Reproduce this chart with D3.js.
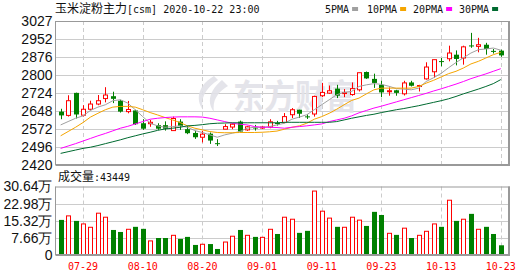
<!DOCTYPE html>
<html><head><meta charset="utf-8">
<script src="https://cdn.jsdelivr.net/npm/d3@7"></script>
<style>body{margin:0;background:#fff}svg{display:block}</style>
</head><body><svg id="c" width="530" height="276"></svg>
<script>
const dates = ["07-24","07-27","07-28","07-29","07-30","07-31","08-03","08-04","08-05","08-06","08-07","08-10","08-11","08-12","08-13","08-14","08-17","08-18","08-19","08-20","08-21","08-24","08-25","08-26","08-27","08-28","08-31","09-01","09-02","09-03","09-04","09-07","09-08","09-09","09-10","09-11","09-14","09-15","09-16","09-17","09-18","09-21","09-22","09-23","09-24","09-25","09-28","09-29","09-30","10-09","10-12","10-13","10-14","10-15","10-16","10-19","10-20","10-21","10-22","10-23"];
const open  = [2645,2629,2724,2630,2655,2677,2700,2710,2691,2645,2650,2596,2594,2588,2588,2565,2603,2571,2555,2537,2552,2512,2571,2580,2603,2568,2578,2578,2580,2597,2599,2632,2653,2625,2635,2712,2723,2742,2722,2717,2737,2812,2783,2758,2730,2735,2720,2768,2753,2783,2813,2858,2868,2885,2871,2924,2920,2927,2901,2902];
const high  = [2657,2714,2725,2672,2691,2715,2748,2729,2695,2690,2653,2613,2610,2596,2604,2624,2613,2585,2564,2564,2557,2529,2592,2596,2607,2585,2589,2585,2613,2606,2639,2660,2653,2634,2712,2766,2755,2758,2740,2768,2809,2814,2805,2775,2747,2737,2775,2775,2758,2853,2864,2871,2923,2903,2923,2977,2956,2935,2909,2906];
const low   = [2613,2624,2616,2624,2650,2672,2684,2681,2641,2638,2589,2568,2581,2568,2565,2564,2568,2550,2530,2515,2509,2500,2571,2571,2558,2564,2565,2572,2575,2586,2596,2618,2618,2614,2624,2706,2720,2702,2706,2712,2730,2783,2745,2706,2712,2712,2713,2751,2730,2780,2788,2836,2857,2840,2843,2914,2895,2885,2890,2876];
const close = [2629,2691,2633,2655,2677,2691,2715,2699,2645,2654,2592,2573,2600,2573,2573,2616,2585,2554,2537,2550,2523,2510,2582,2592,2561,2581,2576,2580,2602,2595,2624,2653,2636,2623,2709,2726,2733,2712,2725,2742,2809,2785,2766,2726,2733,2724,2766,2754,2755,2833,2864,2856,2892,2867,2918,2922,2927,2909,2899,2882];
const volume = [15.7,17.5,15.25,13.9,12.4,18.7,16.9,11.2,10.3,11.5,12.6,11.7,6.3,7.6,7.6,8.8,7.2,8.1,4.5,4.8,4.9,2.7,5.8,8.4,11.2,8.8,8.1,7.9,11.5,9.4,16.9,16.0,9.9,10.8,28.6,19.6,16.5,12.6,12.4,16.9,15.6,13.0,19.3,17.9,9.7,9.0,12.0,7.6,8.8,10.6,13.9,12.6,24.5,15.25,16.0,18.4,11.5,12.6,9.4,4.3449];
const lastVolume = 43449;
const ma5  = [2589,2603,2617,2627,2650,2664,2674,2691,2695,2681,2653,2624,2596,2585,2579,2582,2585,2579,2565,2557,2547,2537,2547,2554,2561,2575,2579,2579,2582,2589,2596,2613,2622,2632,2653,2674,2695,2716,2726,2730,2751,2758,2763,2760,2752,2742,2740,2737,2744,2772,2788,2806,2830,2852,2872,2892,2906,2909,2913,2904];
const ma10 = [2543,2561,2579,2599,2622,2638,2653,2664,2667,2667,2664,2653,2641,2631,2620,2610,2599,2585,2575,2568,2561,2557,2556,2556,2557,2557,2557,2558,2560,2563,2571,2579,2585,2596,2613,2624,2638,2655,2674,2692,2702,2720,2737,2744,2744,2744,2744,2744,2751,2765,2777,2791,2805,2815,2829,2846,2857,2871,2885,2895];
const ma20 = [2490,2500,2510,2521,2532,2543,2553,2564,2575,2583,2593,2603,2613,2617,2620,2622,2623,2623,2623,2622,2617,2610,2603,2596,2592,2589,2582,2579,2579,2578,2575,2579,2582,2585,2589,2593,2603,2610,2617,2627,2640,2650,2660,2668,2677,2686,2695,2704,2713,2722,2732,2741,2751,2761,2772,2784,2794,2804,2815,2826];
const ma30 = [2469,2476,2483,2490,2495,2502,2510,2518,2526,2535,2543,2551,2558,2566,2572,2575,2579,2585,2587,2590,2594,2596,2597,2598,2598,2598,2598,2598,2598,2598,2600,2600,2600,2600,2600,2600,2600,2603,2610,2617,2623,2629,2634,2641,2647,2653,2658,2664,2670,2677,2684,2691,2699,2709,2720,2730,2740,2751,2763,2780];
const priceTicks = [2420,2496,2572,2648,2724,2800,2876,2952,3027];
const volTicks = [0,7.66,15.32,22.98,30.64];
const tickDates = ["07-29","08-10","08-20","09-01","09-11","09-23","10-13","10-23"];
const legendNames = ["5PMA","10PMA","20PMA","30PMA"];
const maColors = ["#a0a0a0","#f5a500","#ff00ff","#006a30"];

const L = 55.5, R = 509, T = 21, B = 165, VT = 186.5, VB = 255;
const RED = "#ff0000", GREEN = "#008000";
const svg = d3.select("#c");
const x = d3.scaleBand().domain(dates).range([56.9, 504.5]);
const cx = d => x(d) + x.bandwidth() / 2;
const y = d3.scaleLinear().domain([2420, 3027]).range([B, T]);
const yv = d3.scaleLinear().domain([0, 30.64]).range([VB, VT]);

const monoFont = "'DejaVu Sans Mono', 'Liberation Mono', monospace";
const numFont = "'Liberation Sans Narrow', 'Arial Narrow', 'Liberation Sans', Arial, sans-serif";
const cjkFont = "'Noto Sans CJK SC', sans-serif";

// gridlines
function hgrid(g, ticks, sc) {
  g.selectAll("line.h").data(ticks.slice(1, -1)).join("line")
    .attr("x1", L).attr("x2", R)
    .attr("y1", d => Math.round(sc(d)) + 0.5).attr("y2", d => Math.round(sc(d)) + 0.5)
    .attr("stroke", "#cccccc").attr("stroke-width", 1);
}
function vgrid(g, top, bot) {
  g.selectAll("line.v").data(tickDates).join("line")
    .attr("x1", d => Math.round(cx(d)) + 0.5).attr("x2", d => Math.round(cx(d)) + 0.5)
    .attr("y1", top).attr("y2", bot)
    .attr("stroke", "#cccccc").attr("stroke-dasharray", "4,3");
}
const gMain = svg.append("g");
hgrid(gMain, priceTicks, y); vgrid(gMain, T, B);
const gVol = svg.append("g");
hgrid(gVol, volTicks, yv); vgrid(gVol, VT, VB);

// watermark
const wm = svg.append("g").attr("opacity", 0.9);
wm.append("path")
  .attr("d", "M214,76 C200,84 194,98 203,110 C200,98 206,88 218,80 Z M222,80 C210,90 206,102 214,112 C212,100 218,92 228,86 Z")
  .attr("fill", "#e2e2e8");
wm.append("text").attr("x", 233).attr("y", 109)
  .attr("font-family", cjkFont).attr("font-size", 34).attr("font-weight", "bold")
  .attr("textLength", 124).attr("lengthAdjust", "spacingAndGlyphs")
  .attr("fill", "#e2e2e8").text("东方财富");

// candles
const idx = d3.range(dates.length);
const gC = svg.append("g");
gC.selectAll("line.wick").data(idx).join("line")
  .attr("x1", i => Math.round(cx(dates[i])) + 0.5).attr("x2", i => Math.round(cx(dates[i])) + 0.5)
  .attr("y1", i => y(high[i])).attr("y2", i => y(low[i]))
  .attr("stroke", i => close[i] >= open[i] ? RED : GREEN).attr("stroke-width", 1);
gC.selectAll("rect.body").data(idx).join("rect")
  .attr("x", i => close[i] >= open[i] ? Math.round(cx(dates[i])) - 2 + 0.5 : Math.round(cx(dates[i])) - 2)
  .attr("width", i => close[i] >= open[i] ? 4 : 5)
  .attr("y", i => y(Math.max(open[i], close[i])))
  .attr("height", i => Math.max(1, Math.abs(y(open[i]) - y(close[i]))))
  .attr("fill", i => close[i] >= open[i] ? "#ffffff" : GREEN)
  .attr("stroke", i => close[i] >= open[i] ? RED : "none").attr("stroke-width", 1);

// MA lines
const mas = [ma5, ma10, ma20, ma30];
const line = d3.line().x((d, i) => cx(dates[i])).y(d => y(d));
svg.append("g").selectAll("path").data(mas).join("path")
  .attr("d", d => line(d)).attr("fill", "none")
  .attr("stroke", (d, k) => maColors[k]).attr("stroke-width", 1);

// volume bars
svg.append("g").selectAll("rect").data(idx).join("rect")
  .attr("x", i => close[i] >= open[i] ? Math.round(cx(dates[i])) - 2 + 0.5 : Math.round(cx(dates[i])) - 2)
  .attr("width", i => close[i] >= open[i] ? 4 : 5)
  .attr("y", i => yv(volume[i]))
  .attr("height", i => VB - yv(volume[i]))
  .attr("fill", i => close[i] >= open[i] ? "#ffffff" : GREEN)
  .attr("stroke", i => close[i] >= open[i] ? RED : "none");

// borders
function frame(top, bot) {
  const g = svg.append("g").attr("stroke", "#999999").attr("fill", "none");
  g.append("line").attr("x1", L).attr("x2", R + 1).attr("y1", top + 0.5).attr("y2", top + 0.5);
  g.append("line").attr("x1", L).attr("x2", L).attr("y1", top).attr("y2", bot);
  g.append("line").attr("x1", R).attr("x2", R).attr("y1", top).attr("y2", bot + 1).attr("stroke-width", 2);
  g.append("line").attr("x1", L).attr("x2", R + 1).attr("y1", bot).attr("y2", bot).attr("stroke-width", 2);
}
frame(T, B); frame(VT, VB);

// axes
const ya = svg.append("g").attr("transform", `translate(${L},0)`)
  .call(d3.axisLeft(y).tickValues(priceTicks).tickSize(0).tickPadding(3).tickFormat(d3.format("d")));
ya.select(".domain").remove();
ya.selectAll("text").attr("font-family", numFont).attr("font-size", 14).attr("fill", "#111");
const va = svg.append("g").attr("transform", `translate(${L},0)`)
  .call(d3.axisLeft(yv).tickValues(volTicks).tickSize(0).tickPadding(3)
    .tickFormat(d => d === 0 ? "0" : d3.format(".2f")(d) + "万"));
va.select(".domain").remove();
va.selectAll("text").attr("font-family", numFont).attr("font-size", 14).attr("fill", "#111");
const xa = svg.append("g").attr("transform", `translate(0,${VB})`)
  .call(d3.axisBottom(x).tickValues(tickDates).tickSize(0).tickPadding(8));
xa.select(".domain").remove();
xa.selectAll("text").attr("font-family", monoFont).attr("font-size", 10).attr("fill", RED);

// title
const title = svg.append("text").attr("x", 55).attr("y", 12.5).attr("fill", "#111");
title.append("tspan").attr("font-family", cjkFont).attr("font-size", 12).text("玉米淀粉主力");
title.append("tspan").attr("font-family", monoFont).attr("font-size", 10).text("[csm] 2020-10-22 23:00");

// legend
const legX = [325, 367, 413, 459];
const lg = svg.append("g");
lg.selectAll("text").data(legendNames).join("text")
  .attr("x", (d, k) => legX[k]).attr("y", 12.5)
  .attr("font-family", monoFont).attr("font-size", 10).attr("fill", "#111").text(d => d);
lg.selectAll("rect").data(legendNames).join("rect")
  .attr("x", (d, k) => legX[k] + d.length * 6.02 + 3).attr("y", 7)
  .attr("width", 6).attr("height", 4).attr("fill", (d, k) => maColors[k]);

// volume title
const vt = svg.append("text").attr("x", 58).attr("y", 180.5).attr("fill", "#111");
vt.append("tspan").attr("font-family", cjkFont).attr("font-size", 12).text("成交量");
vt.append("tspan").attr("font-family", monoFont).attr("font-size", 10).text(":" + lastVolume);
</script></body></html>
